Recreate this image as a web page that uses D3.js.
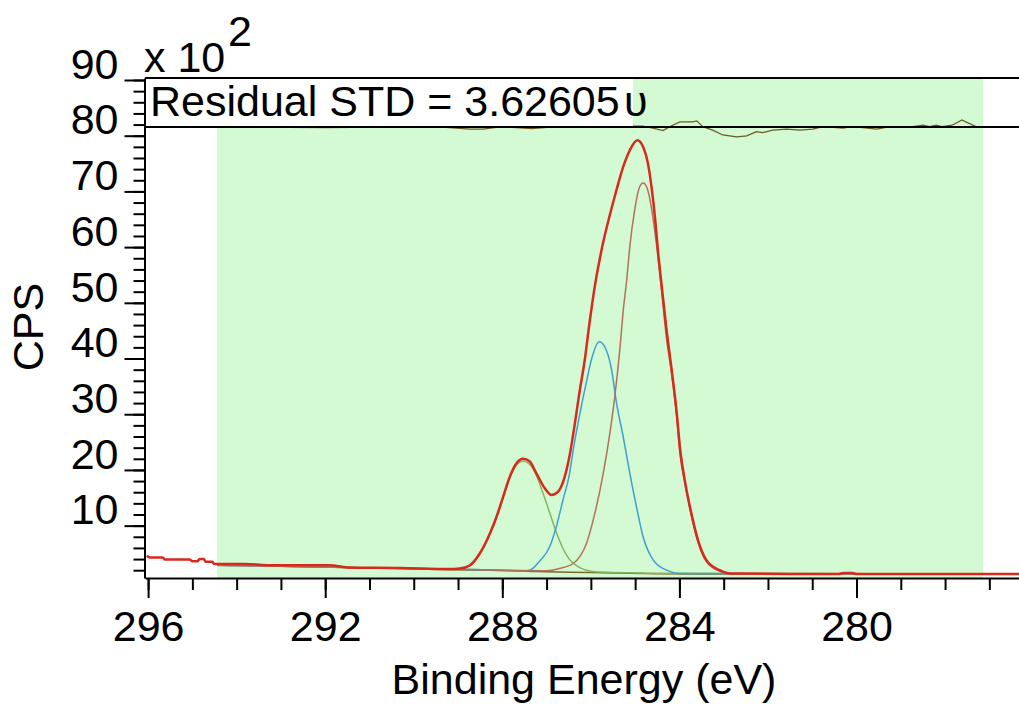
<!DOCTYPE html>
<html>
<head>
  <meta charset="utf-8">
  <title>C 1s fit</title>
  <script src="https://cdn.jsdelivr.net/npm/d3@7"></script>
  <style>
    body { margin: 0; background: #fff; }
    text { font-family: "Liberation Sans", Arial, sans-serif; fill: #000; font-size: 43px; }
    .axis text { font-size: 43px; }
    .axis path, .axis line { stroke: #000; stroke-width: 2; }
  </style>
</head>
<body>
  <div id="chart"></div>

  <script>
    // binding energy (eV), CPS x 10^2
    const region = [294.44, 277.14];
    const envelope = [[296.03,4.6],[295.96,4.3],[295.67,4.3],[295.62,3.9],[295.06,3.9],[295.0,3.6],[294.88,3.6],[294.84,4.0],[294.74,4.0],[294.7,3.5],[294.55,3.5],[294.5,3.1],[293.8,3.1],[293.2,2.9],[291.9,2.9],[291.5,2.5],[290.3,2.4],[289.2,2.2],[288.96,2.3],[288.73,2.9],[288.51,5.0],[288.28,8.6],[288.13,11.6],[287.98,15.2],[287.83,18.8],[287.68,21.2],[287.53,22.0],[287.38,21.5],[287.23,19.4],[287.04,16.7],[286.89,15.5],[286.74,16.1],[286.59,18.8],[286.47,23.0],[286.36,28.4],[286.25,34.3],[286.14,39.6],[286.02,47.0],[285.91,53.0],[285.72,60.9],[285.57,65.8],[285.42,70.3],[285.27,74.4],[285.12,77.4],[284.95,79.2],[284.82,78.0],[284.71,75.0],[284.63,70.8],[284.55,65.2],[284.48,59.0],[284.40,53.0],[284.29,45.1],[284.18,38.3],[284.06,30.2],[283.99,24.2],[283.88,18.2],[283.73,12.2],[283.58,7.4],[283.39,3.8],[283.09,2.0],[282.86,1.4],[281.5,1.3],[280.4,1.3],[280.3,1.5],[280.1,1.5],[280.0,1.3],[276.3,1.3]];
    const peakCO = [[294.44,2.9],[291.5,2.5],[289.2,2.2],[288.96,2.2],[288.73,2.8],[288.51,4.9],[288.28,8.5],[288.13,11.5],[287.98,15.0],[287.83,18.6],[287.68,20.9],[287.53,21.6],[287.38,21.0],[287.23,19.0],[287.08,15.8],[286.93,12.3],[286.78,8.8],[286.63,5.9],[286.48,3.9],[286.3,2.7],[286.1,2.0],[285.9,1.7],[285.5,1.6],[284.5,1.45],[277.14,1.3]];
    const peakCOH = [[294.44,2.9],[291.5,2.5],[289.2,2.2],[288.0,2.0],[287.5,1.9],[287.38,2.0],[287.16,3.6],[286.93,6.2],[286.78,9.8],[286.63,14.6],[286.48,19.4],[286.40,23.5],[286.25,30.0],[286.10,35.8],[285.98,40.0],[285.81,43.0],[285.65,41.5],[285.53,37.9],[285.42,32.0],[285.27,26.0],[285.12,19.4],[284.97,13.4],[284.82,8.0],[284.59,3.8],[284.29,2.0],[283.99,1.4],[277.14,1.3]];
    const peakCC = [[294.44,2.9],[291.5,2.5],[289.2,2.2],[288.0,2.0],[287.0,1.9],[286.71,2.3],[286.40,3.2],[286.10,6.8],[285.91,12.2],[285.72,19.4],[285.57,26.6],[285.46,33.1],[285.34,42.1],[285.27,48.5],[285.19,54.1],[285.12,60.1],[285.01,66.7],[284.90,70.8],[284.82,71.5],[284.73,70.6],[284.65,67.9],[284.55,62.5],[284.46,56.5],[284.40,52.0],[284.29,43.5],[284.18,37.5],[284.06,29.5],[283.99,23.0],[283.88,17.8],[283.73,11.8],[283.58,7.0],[283.39,3.5],[283.09,1.8],[282.86,1.4],[277.14,1.3]];
    const background = [[294.44,2.9],[291.5,2.5],[289.2,2.1],[288.3,2.0],[287.5,1.8],[286.5,1.65],[285.5,1.5],[284.5,1.35],[283.5,1.3],[277.14,1.3]];
    const residual = [[294.44,0],[292.0,-0.2],[289.5,0],[288.73,-0.5],[288.44,-0.5],[288.0,0],[287.33,-0.4],[286.5,0.2],[285.5,0],[285.05,0.1],[284.83,0.1],[284.60,-0.3],[284.37,-0.8],[284.22,0],[283.99,1.0],[283.70,1.0],[283.61,1.2],[283.47,0],[283.25,-0.7],[283.02,-1.7],[282.71,-2.1],[282.48,-1.9],[282.26,-1.0],[282.12,-1.2],[281.89,-0.7],[281.58,-0.5],[281.28,-0.7],[280.99,-0.5],[280.76,0],[280.31,-0.3],[280.09,0],[279.86,-0.2],[279.54,-0.5],[279.25,0],[278.73,0],[278.50,0.3],[278.35,0],[278.20,0.3],[278.07,0],[277.84,0.3],[277.62,1.4],[277.46,0.7],[277.3,0],[277.14,0]];
    const xMajor = [296, 292, 288, 284, 280];
    const xMinor = d3.range(277, 297);
    const yMajor = [10, 20, 30, 40, 50, 60, 70, 80, 90];
    const yMinor = d3.range(2, 91, 2);

    const W = 1019, H = 711;
    const svg = d3.select("#chart").append("svg")
      .attr("width", W).attr("height", H);

    const x = d3.scaleLinear().domain([296.07, 276.33]).range([145, 1019]);
    const y = d3.scaleLinear().domain([0.6, 90.36]).range([578, 78]);
    // residual panel scale, zero sits on the panel's bottom line
    const yRes = d3.scaleLinear().domain([0, 10]).range([126.7, 78]);

    // fitting region
    svg.append("rect")
      .attr("x", x(region[0])).attr("y", 78)
      .attr("width", x(region[1]) - x(region[0])).attr("height", 578 - 78)
      .attr("fill", "#d3fad3");

    const line = d3.line()
      .x(d => x(d[0]))
      .y(d => y(d[1]))
      .curve(d3.curveMonotoneX);

    svg.append("path").datum(residual)
      .attr("fill", "none").attr("stroke", "#6b5a22").attr("stroke-width", 1.3)
      .attr("d", d3.line().x(d => x(d[0])).y(d => yRes(d[1])));

    // text box over the residual panel
    svg.append("rect")
      .attr("x", 146).attr("y", 79).attr("width", 633 - 146).attr("height", 47)
      .attr("fill", "#fff");

    svg.append("path").datum(background)
      .attr("fill", "none").attr("stroke", "#7a6a2a").attr("stroke-width", 1.5)
      .attr("d", line);

    [[peakCO, "#86b45c"], [peakCOH, "#3d9fd6"], [peakCC, "#b5705a"]].forEach(([d, c]) => {
      svg.append("path").datum(d)
        .attr("fill", "none").attr("stroke", c).attr("stroke-width", 1.5)
        .attr("d", line);
    });

    svg.append("path").datum(envelope)
      .attr("fill", "none").attr("stroke", "#d8291c").attr("stroke-width", 2.5)
      .attr("d", line);

    // panel lines
    svg.append("line").attr("x1", 145).attr("x2", W).attr("y1", 78).attr("y2", 78)
      .attr("stroke", "#000").attr("stroke-width", 2);
    svg.append("line").attr("x1", 145).attr("x2", W).attr("y1", 127).attr("y2", 127)
      .attr("stroke", "#000").attr("stroke-width", 2);

    // x axis
    svg.append("g").attr("class", "axis")
      .attr("transform", "translate(0,578)")
      .call(d3.axisBottom(x).tickValues(xMinor).tickSize(12).tickFormat(""))
      .call(g => g.select(".domain").remove());
    const xa = svg.append("g").attr("class", "axis")
      .attr("transform", "translate(0,578)")
      .call(d3.axisBottom(x).tickValues(xMajor).tickSize(20).tickSizeOuter(0).tickFormat(d3.format("d")));
    xa.selectAll("text").attr("y", 63).attr("dy", 0);

    // y axis
    svg.append("g").attr("class", "axis")
      .attr("transform", "translate(144.5,0)")
      .call(d3.axisLeft(y).tickValues(yMinor).tickSize(11).tickFormat(""))
      .call(g => g.select(".domain").remove());
    const ya = svg.append("g").attr("class", "axis")
      .attr("transform", "translate(144.5,0)")
      .call(d3.axisLeft(y).tickValues(yMajor).tickSize(20).tickSizeOuter(0));
    ya.selectAll("text").attr("x", -26).attr("dy", "-0.04em");

    // labels
    svg.append("text").attr("x", 144).attr("y", 72).text("x 10");
    svg.append("text").attr("x", 228).attr("y", 46).text("2");
    svg.append("text").attr("x", 150).attr("y", 116).text("Residual STD = 3.62605");
    svg.append("text").attr("x", 624).attr("y", 116).text("υ");

    svg.append("text")
      .attr("transform", "translate(43,327) rotate(-90)")
      .attr("text-anchor", "middle").text("CPS");
    svg.append("text")
      .attr("x", 584).attr("y", 694)
      .attr("text-anchor", "middle").text("Binding Energy (eV)");
  </script>
</body>
</html>
